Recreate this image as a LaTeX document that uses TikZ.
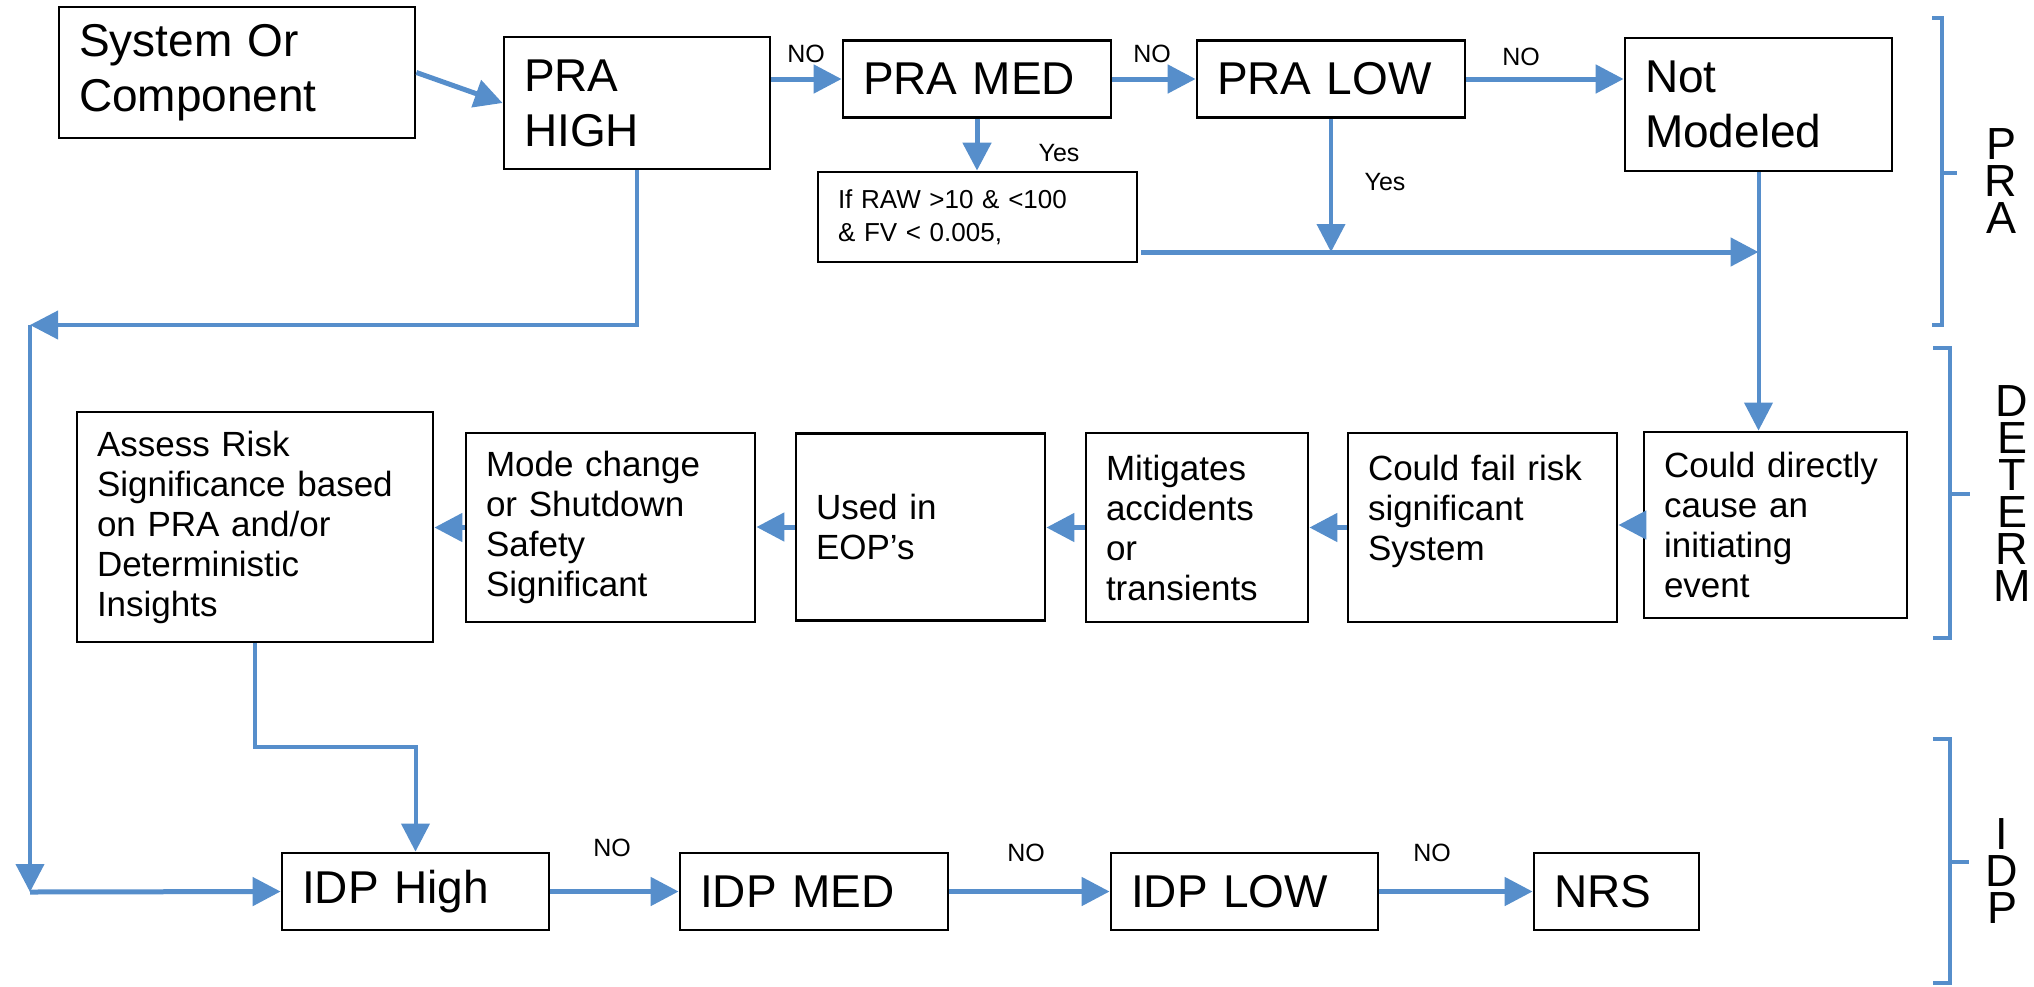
\documentclass[tikz,border=0pt]{standalone}
\usepackage{fontspec}
\setmainfont{Liberation Sans}
\usetikzlibrary{arrows.meta,calc}
\definecolor{lblue}{RGB}{86,142,203}
\begin{document}
\begin{tikzpicture}[x=0.5pt,y=-0.5pt,
  box/.style={draw=black, line width=1.4pt, inner xsep=10pt, inner ysep=0pt, align=left, fill=white},
  big/.style={box, font=\fontsize{23}{27.5}\selectfont},
  mid/.style={box, font=\fontsize{17.5}{20}\selectfont},
  small/.style={box, font=\fontsize{13}{16.5}\selectfont},
  lab/.style={font=\fontsize{12.5}{15}\selectfont, inner sep=0pt},
  conn/.style={draw=lblue, line width=2.5pt, -{Triangle[length=14pt,width=14pt]}},
  thinconn/.style={conn, line width=2pt},
  brk/.style={draw=lblue, line width=2pt},
  side/.style={font=\fontsize{22.5}{18.5}\selectfont, align=center, inner sep=0pt}]
\useasboundingbox (0,0) rectangle (2034,986);

% PRA row
\node[big, text width=158pt, minimum height=65.5pt] (sys) at (237,72.5) {System Or\\Component};
\node[big, text width=113pt, minimum height=66pt] (prahigh) at (637,103) {PRA\\HIGH};
\node[big, text width=114pt, minimum height=38.5pt] (pramed) at (977,79) {PRA MED};
\node[big, text width=114pt, minimum height=38.5pt] (pralow) at (1331,79) {PRA LOW};
\node[big, text width=113.5pt, minimum height=66.5pt] (notmod) at (1758.5,104.5) {Not\\Modeled};
\node[small, text width=139.5pt, minimum height=45pt] (raw) at (977.5,217) {If RAW >10 \& <100\\\& FV < 0.005,};

% DETERM row
\node[mid, text width=158pt, minimum height=115pt] (assess) at (255,527) {Assess Risk\\Significance based\\on PRA and/or\\Deterministic\\Insights};
\node[mid, text width=124.5pt, minimum height=94.5pt] (mode) at (610.5,527.5) {Mode change\\or Shutdown\\Safety\\Significant};
\node[mid, text width=104.5pt, minimum height=93.5pt] (used) at (920.5,527) {Used in\\EOP’s};
\node[mid, text width=91pt, minimum height=94.5pt] (mitig) at (1197,527.5) {Mitigates\\accidents\\or\\transients};
\node[mid, text width=114.5pt, minimum height=94.5pt] (cfail) at (1482.5,527.5) {Could fail risk\\significant\\System\\\mbox{}};
\node[mid, text width=111.5pt, minimum height=93pt] (cdir) at (1775.5,525) {Could directly\\cause an\\initiating\\event};

% IDP row
\node[big, text width=113.5pt, minimum height=38.5pt] (idphigh) at (415.5,891.5) {IDP High};
\node[big, text width=114pt, minimum height=38.5pt] (idpmed) at (814,891.5) {IDP MED};
\node[big, text width=113.5pt, minimum height=38.5pt] (idplow) at (1244.5,891.5) {IDP LOW};
\node[big, text width=62.5pt, minimum height=38.5pt] (nrs) at (1616.5,891.5) {NRS};

% labels
\node[lab] (no1) at (806,54) {NO};
\node[lab] (no2) at (1152,54) {NO};
\node[lab] (no3) at (1521,57) {NO};
\node[lab] (no4) at (612,848) {NO};
\node[lab] (no5) at (1026,853) {NO};
\node[lab] (no6) at (1432,853) {NO};
\node[lab] (yes1) at (1059,153) {Yes};
\node[lab] (yes2) at (1385,182) {Yes};

% side labels
\node[side] (lpra) at (2001,181) {P\\R\\A};
\node[side] (ldet) at (2012,494) {D\\E\\T\\E\\R\\M};
\node[side] (lidp) at (2002,871.5) {I\\D\\P};

% brackets
\draw[brk] (1932,18) -- (1942,18) -- (1942,325) -- (1932,325);
\draw[brk] (1942,173) -- (1957,173);
\draw[brk] (1933,348) -- (1950,348) -- (1950,638) -- (1933,638);
\draw[brk] (1950,494) -- (1970,494);
\draw[brk] (1933,739) -- (1950,739) -- (1950,983) -- (1933,983);
\draw[brk] (1950,862) -- (1969,862);

% coordinates
\coordinate (hstart) at (1141,252);
\coordinate (c1) at (30,325);
\coordinate (c2) at (30,892);
\coordinate (bend) at (255,747);

% connectors
\draw[conn] (sys.east) -- (prahigh.west);
\draw[conn] (prahigh.east |- pramed.west) -- (pramed.west);
\draw[conn] (pramed.east) -- (pralow.west);
\draw[conn] (pralow.east) -- (pralow.east -| notmod.west);
\draw[conn] (pramed.south) -- (pramed.south |- raw.north);
\draw[thinconn] (pralow.south) -- (pralow.south |- hstart);
\draw[conn] (hstart) -- (hstart -| notmod.south);
\draw[thinconn] (notmod.south) -- (notmod.south |- cdir.north);
\draw[conn] (cdir.west) -- (cdir.west -| cfail.east);
\draw[conn] (cfail.west) -- (cfail.west -| mitig.east);
\draw[conn] (mitig.west) -- (mitig.west -| used.east);
\draw[conn] (used.west) -- (used.west -| mode.east);
\draw[conn] (mode.west) -- (mode.west -| assess.east);
\draw[thinconn] (prahigh.south) |- (c1);
\draw[thinconn] (c1) -- (c2);
\draw[conn] (c2) -- (idphigh.west);
\draw[thinconn] (assess.south) -- (bend) -| (idphigh.north);
\draw[conn] (idphigh.east) -- (idpmed.west);
\draw[conn] (idpmed.east) -- (idplow.west);
\draw[conn] (idplow.east) -- (nrs.west);
\end{tikzpicture}
\end{document}
